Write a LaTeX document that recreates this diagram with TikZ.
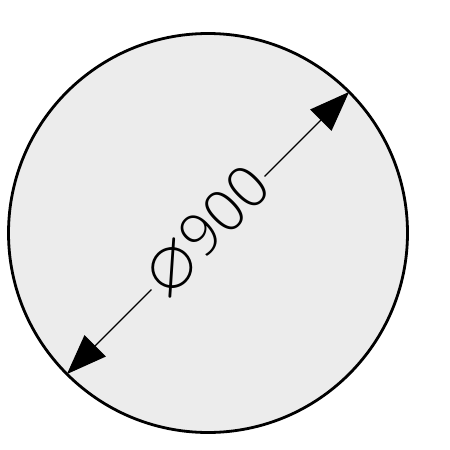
\documentclass[tikz,border=0pt]{standalone}
\usepackage{amssymb}
\usepackage{fontspec}
\usepackage{tikz}
\usetikzlibrary{arrows.meta}
\newfontfamily\dimfont{Open Sans Light}
\definecolor{plateFill}{RGB}{236,236,236}

\begin{document}
\begin{tikzpicture}[x=1pt, y=-1pt]
	\useasboundingbox (0,0) rectangle (450,450);
	\node[draw, circle, line width=2.8pt, minimum size=399pt, inner sep=0pt, outer sep=0pt, fill=plateFill] (plate) at (208,233) {};
	\draw[line width=1.2pt, {Triangle[length=40pt, width=30pt]}-{Triangle[length=40pt, width=30pt]}] (plate.225) -- node[sloped, fill=plateFill, inner sep=3pt, font=\dimfont\fontsize{58}{58}\selectfont] (dia) {\raisebox{-0.05em}{\scalebox{1.2}{$\varnothing$}}900} (plate.45);
\end{tikzpicture}
\end{document}
